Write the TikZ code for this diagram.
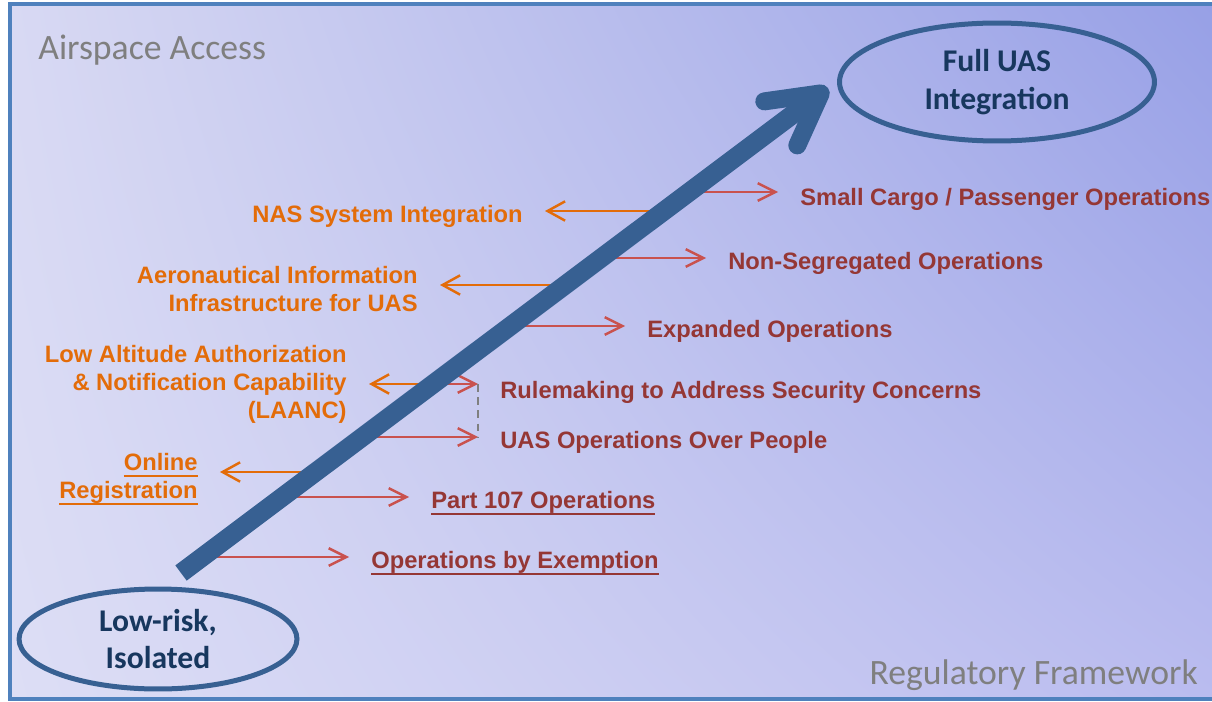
\documentclass[tikz,border=0pt]{standalone}
\usepackage{fontspec}
\setmainfont{Liberation Sans}
\newfontfamily\calib{Carlito}
\usetikzlibrary{arrows.meta,shapes.geometric,shadings,calc}
\definecolor{frameblue}{HTML}{4F81BD}
\definecolor{arrowblue}{HTML}{376092}
\definecolor{textnavy}{HTML}{17375E}
\definecolor{lblred}{HTML}{953735}
\definecolor{lnred}{HTML}{C9524E}
\definecolor{lblorange}{HTML}{E36C09}
\definecolor{axisgray}{HTML}{7F7F7F}
\definecolor{bgul}{HTML}{D8D9F3}
\definecolor{bgur}{HTML}{97A0E6}
\definecolor{bgll}{HTML}{DDDEF5}
\definecolor{bglr}{HTML}{BABCEF}
\newcommand{\uln}[1]{\leavevmode\setbox0\hbox{#1}\rlap{\rule[-3.6pt]{\wd0}{1.1pt}}\box0}
\tikzset{
    goal/.style={ellipse, draw=arrowblue, line width=0.1cm, text=textnavy, align=center, inner sep=0pt, font=\calib\fontsize{18}{21.6}\selectfont\bfseries},
    redlbl/.style={anchor=west, inner sep=0pt, align=left, text=lblred, font=\fontsize{13.5}{16}\selectfont\bfseries},
    orglbl/.style={anchor=east, inner sep=0pt, align=right, text=lblorange, font=\fontsize{13.5}{16}\selectfont\bfseries},
    redline/.style={-{Straight Barb[length=10pt,width=10pt]}, draw=lnred, line width=1.4pt, shorten >=0.44cm},
    orgline/.style={-{Straight Barb[length=10pt,width=11pt]}, draw=lblorange, line width=1.4pt, shorten >=0.44cm},
    axis/.style={inner sep=0pt, text=axisgray, font=\calib\fontsize{20.3}{24}\selectfont},
    bigarrow/.style={draw=arrowblue, line width=0.38cm, -{Straight Barb[length=1cm,width=1.1cm,line width=0.36cm,round]}},
}
\begin{document}
\begin{tikzpicture}
        [x=0.02cm, y=-0.02cm]
        \useasboundingbox (0,0) rectangle (1212,702);

        % Background and frame
        \shade[upper left=bgul, upper right=bgur, lower left=bgll, lower right=bglr] (10,4) rectangle (1212,699);
        \draw[frameblue, line width=0.08cm] (1212,4) -- (10,4) -- (10,699) -- (1212,699);

        % Axis titles
        \node[axis, anchor=west] (access) at (38,50) {Airspace Access};
        \node[axis, anchor=east] (framework) at (1198,675) {Regulatory Framework};

        % Start and goal
        \node[goal, minimum width=5.56cm, minimum height=2cm] (low) at (158,639) {Low-risk,\\Isolated};
        \node[goal, minimum width=6.3cm, minimum height=2.36cm] (full) at (997,82) {Full UAS\\Integration};

        % Labels
        \node[redlbl] (cargo) at (800,199) {Small Cargo / Passenger Operations};
        \node[orglbl] (nas) at (523,216) {NAS System Integration};
        \node[redlbl] (nonseg) at (728,263) {Non-Segregated Operations};
        \node[orglbl] (aero) at (418,289) {Aeronautical Information\\Infrastructure for UAS};
        \node[redlbl] (expanded) at (647,331) {Expanded Operations};
        \node[orglbl] (laanc) at (347,384) {Low Altitude Authorization\\\& Notification Capability\\(LAANC)};
        \node[redlbl] (rule) at (500,392) {Rulemaking to Address Security Concerns};
        \node[redlbl] (people) at (500,442) {UAS Operations Over People};
        \node[orglbl] (online) at (198,479) {\uln{Online}\\\uln{Registration}};
        \node[redlbl] (part) at (431,503) {\uln{Part 107 Operations}};
        \node[redlbl] (exempt) at (371,563) {\uln{Operations by Exemption}};

        % Points on the main arrow
        \coordinate (base) at (181,573);
        \coordinate (tip) at (828,88);
        \coordinate (s1) at (690,192);
        \coordinate (s2) at (665,211);
        \coordinate (s3) at (602,258);
        \coordinate (s4) at (566,285);
        \coordinate (s5) at (511,326);
        \coordinate (s6) at (434,384);
        \coordinate (s7) at (363,437);
        \coordinate (s8) at (316,472);
        \coordinate (s9) at (283,497);
        \coordinate (s10) at (202,557);
        \coordinate (dtop) at (478,384);
        \coordinate (dbot) at (478,437);

        % Lines
        \draw[redline] (s1) -- (s1 -| cargo.west);
        \draw[orgline] (s2) -- (s2 -| nas.east);
        \draw[redline] (s3) -- (s3 -| nonseg.west);
        \draw[orgline] (s4) -- (s4 -| aero.east);
        \draw[redline] (s5) -- (s5 -| expanded.west);
        \draw[orgline] (s6) -- (s6 -| laanc.east);
        \draw[redline] (s6) -- (s6 -| rule.west);
        \draw[redline] (s7) -- (s7 -| people.west);
        \draw[orgline] (s8) -- (s8 -| online.east);
        \draw[redline] (s9) -- (s9 -| part.west);
        \draw[redline] (s10) -- (s10 -| exempt.west);
        \draw[axisgray, line width=1.4pt, dash pattern=on 4.5pt off 3pt] (dtop) -- (dbot);

        % Main arrow
        \draw[bigarrow] (base) -- (tip);

    \end{tikzpicture}
\end{document}
